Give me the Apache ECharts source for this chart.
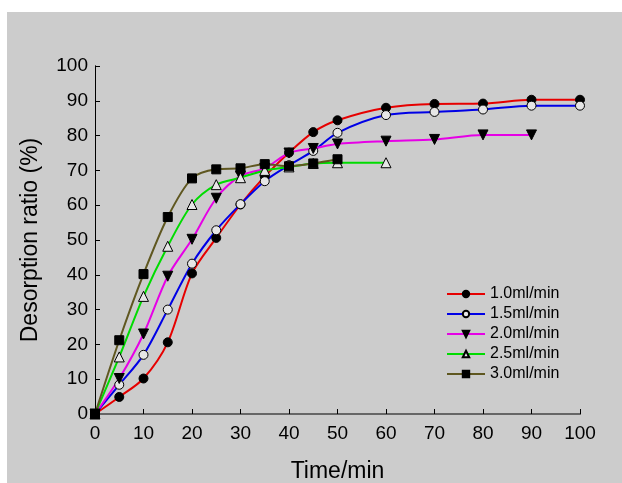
<!DOCTYPE html>
<html>
<head>
<meta charset="utf-8">
<script src="https://cdn.jsdelivr.net/npm/echarts@6/dist/echarts.min.js"></script>
<style>
  html, body { margin: 0; padding: 0; background: #fff; }
  #chart { position: absolute; left: 7px; top: 12px; width: 615px; height: 471px; background: #cccccc; }
</style>
</head>
<body>
<div id="chart"></div>
<script>
// flow rates and their measured points (time in min, desorption ratio in %)
const names = ['1.0ml/min', '1.5ml/min', '2.0ml/min', '2.5ml/min', '3.0ml/min'];
const time10 = [0, 5, 10, 15, 20, 25, 30, 35, 40, 45, 50, 60, 70, 80, 90, 100];
const ratio10 = [0, 4.9, 10.2, 20.6, 40.4, 50.6, 60.2, 68.3, 75.1, 81, 84.4, 88, 89.1, 89.2, 90.3, 90.3];
const time15 = [0, 5, 10, 15, 20, 25, 30, 35, 40, 45, 50, 60, 70, 80, 90, 100];
const ratio15 = [0, 8.4, 17, 30, 43.2, 52.8, 60.3, 66.9, 71.5, 75.6, 80.8, 85.9, 86.8, 87.5, 88.6, 88.6];
const time20 = [0, 5, 10, 15, 20, 25, 30, 35, 40, 45, 50, 60, 70, 80, 90];
const ratio20 = [0, 10.2, 23, 39.6, 50.2, 62, 68.4, 70.6, 75, 76.3, 77.6, 78.4, 78.9, 80.2, 80.2];
const time25 = [0, 5, 10, 15, 20, 25, 30, 35, 40, 45, 50, 60];
const ratio25 = [0, 16.4, 33.8, 48.2, 60.2, 65.9, 67.9, 70, 71, 72, 72.2, 72.2];
const time30 = [0, 5, 10, 15, 20, 25, 30, 35, 40, 45, 50];
const ratio30 = [0, 21.2, 40.2, 56.6, 67.7, 70.3, 70.6, 71.8, 71.2, 72, 73.2];
const xTicks = [0, 10, 20, 30, 40, 50, 60, 70, 80, 90, 100];

const lineColors = ['#e60000', '#0000e6', '#e600e6', '#00dc00', '#5f5720'];
const symbols = ['circle', 'circle', 'path://M0,0 L10,0 L5,9 Z', 'triangle', 'rect'];
const fills = ['#000', '#e6e6e6', '#000', '#e6e6e6', '#000'];
const sizes = [9, 9, 10, 10, 9];

const xs = [time10, time15, time20, time25, time30];
const ys = [ratio10, ratio15, ratio20, ratio25, ratio30];

const chart = echarts.init(document.getElementById('chart'));
const font = 'Arial, "Liberation Sans", sans-serif';

const series = names.map((n, i) => ({
  name: n,
  type: 'line',
  smooth: 0.3,
  data: xs[i].map((t, k) => [t, ys[i][k]]),
  symbol: symbols[i],
  symbolSize: sizes[i],
  showAllSymbol: true,
  lineStyle: { color: lineColors[i], width: 2 },
  itemStyle: { color: fills[i], borderColor: '#000', borderWidth: 1 }
}));

const option = {
  animation: false,
  grid: { left: 88, top: 54, right: 42, bottom: 69, outerBoundsMode: 'none', containLabel: false },
  legend: {
    orient: 'vertical',
    left: 434,
    top: 269,
    itemWidth: 38,
    itemHeight: 8,
    itemGap: 4,
    textStyle: { fontFamily: font, fontSize: 16, color: '#000' },
    data: names
  },
  xAxis: [{
    type: 'value',
    min: 0, max: 100, interval: 10,
    name: 'Time/min',
    nameLocation: 'middle',
    nameGap: 46,
    nameTextStyle: { fontFamily: font, fontSize: 23, color: '#000' },
    axisLine: { onZero: false, lineStyle: { color: '#000', width: 1 } },
    axisTick: { inside: true, length: 5, lineStyle: { color: '#000' } },
    axisLabel: { fontFamily: font, fontSize: 19, color: '#000', margin: 10,
      customValues: xTicks },
    splitLine: { show: false }
  }, {
    type: 'value', position: 'top',
    min: 0, max: 100,
    axisLine: { show: true, lineStyle: { color: '#666', width: 2 } },
    axisTick: { show: false }, axisLabel: { show: false }, splitLine: { show: false }
  }],
  yAxis: [{
    type: 'value',
    min: 0, max: 100, interval: 10,
    name: 'Desorption ratio (%)',
    nameLocation: 'middle',
    nameGap: 53,
    nameTextStyle: { fontFamily: font, fontSize: 23, color: '#000' },
    axisLine: { show: true, onZero: false, lineStyle: { color: '#000', width: 1 } },
    axisTick: { show: true, inside: true, length: 5, lineStyle: { color: '#000' } },
    axisLabel: { fontFamily: font, fontSize: 19, color: '#000', margin: 7 },
    splitLine: { show: false }
  }, {
    type: 'value', position: 'right',
    min: 0, max: 100,
    axisLine: { show: true, lineStyle: { color: '#000', width: 1 } },
    axisTick: { show: false }, axisLabel: { show: false }, splitLine: { show: false }
  }],
  series: series
};

chart.setOption(option);
</script>
</body>
</html>
